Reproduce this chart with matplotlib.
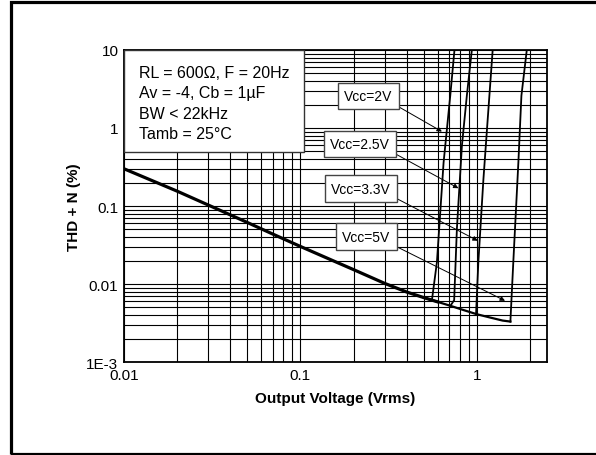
import matplotlib
matplotlib.use("Agg")
import matplotlib.pyplot as plt
from matplotlib.patches import Rectangle
import numpy as np

plt.rcParams['font.family'] = ['Liberation Sans', 'DejaVu Sans']

#### Data ####
# common THD+N curve (all supplies) in % vs output voltage in Vrms
main_v = [0.01, 0.02, 0.03, 0.05, 0.07, 0.1, 0.15, 0.2, 0.3, 0.4, 0.5, 0.6,
          0.7, 0.85, 1.0, 1.2, 1.4, 1.55]
main_thd = [0.30, 0.155, 0.103, 0.0615, 0.0435, 0.0303, 0.0203, 0.0153, 0.0102, 0.0079, 0.0067, 0.0059,
            0.0053, 0.0046, 0.0041, 0.0037, 0.0034, 0.0033]

# clipping rise for each supply voltage
v_2v = [0.557, 0.594, 0.648, 0.707, 0.747]
thd_2v = [0.0063, 0.019, 0.36, 2.6, 10]
v_25v = [0.71, 0.744, 0.771, 0.823, 0.878, 0.937]
thd_25v = [0.0053, 0.0062, 0.051, 0.59, 2.6, 10]
v_33v = [0.99, 1.02, 1.09, 1.16, 1.23]
thd_33v = [0.0041, 0.019, 0.22, 1.58, 10]
v_5v = [1.55, 1.61, 1.72, 1.79, 1.92]
thd_5v = [0.0033, 0.019, 0.36, 2.6, 10]

vcc_labels = ['Vcc=2V', 'Vcc=2.5V', 'Vcc=3.3V', 'Vcc=5V']
info_lines = ['RL = 600\u03a9, F = 20Hz', 'Av = -4, Cb = 1\u00b5F', 'BW < 22kHz', 'Tamb = 25\u00b0C']

x_ticks = [0.01, 0.1, 1]
x_ticklabels = ['0.01', '0.1', '1']
y_ticks = [1e-3, 0.01, 0.1, 1, 10]
y_ticklabels = ['1E-3', '0.01', '0.1', '1', '10']

#### Plot ####
fig = plt.figure(figsize=(5.96, 4.56), dpi=100)
ax = fig.add_axes([0.2081, 0.2039, 0.7097, 0.6843])

ax.set_xscale('log')
ax.set_yscale('log')
ax.set_xlim(0.01, 2.5)
ax.set_ylim(1e-3, 10)

ax.grid(True, which='both', color='black', linewidth=0.8)
ax.set_axisbelow(True)
ax.tick_params(which='both', length=0, labelsize=11, pad=4)
ax.set_xticks(x_ticks)
ax.set_xticklabels(x_ticklabels)
ax.set_yticks(y_ticks)
ax.set_yticklabels(y_ticklabels)
ax.minorticks_on()
ax.xaxis.set_minor_formatter(plt.NullFormatter())
ax.yaxis.set_minor_formatter(plt.NullFormatter())
for sp in ax.spines.values():
    sp.set_linewidth(1.3)

# thick common part, thinner tail
mv = np.array(main_v)
mt = np.array(main_thd)
ax.plot(mv[mv <= 0.6], mt[mv <= 0.6], color='black', lw=2.3, zorder=3)
ax.plot(mv[mv >= 0.5], mt[mv >= 0.5], color='black', lw=1.6, zorder=3)

for v, t in [(v_2v, thd_2v), (v_25v, thd_25v), (v_33v, thd_33v), (v_5v, thd_5v)]:
    ax.plot(v, t, color='black', lw=1.3, zorder=3)

# info box
ax.add_patch(Rectangle((0, 0.672), 0.4255, 0.328, transform=ax.transAxes,
                       facecolor='white', edgecolor='#333333', lw=1.0, zorder=4))
for i, line in enumerate(info_lines):
    ax.text(0.036, 0.9125 - i * 0.0645, line, transform=ax.transAxes,
            fontsize=11.5, va='baseline', ha='left', zorder=5)

# supply voltage callouts
label_pos = [(0.242, 2.56), (0.218, 0.624), (0.221, 0.167), (0.236, 0.0406)]
tips = [(0.634, 0.90), (0.787, 0.169), (1.013, 0.0359), (1.445, 0.0061)]
for lab, pos, tip in zip(vcc_labels, label_pos, tips):
    ax.annotate(lab, xy=tip, xytext=pos, textcoords='data', fontsize=10,
                ha='center', va='center', zorder=5,
                bbox=dict(boxstyle='square,pad=0.45', fc='white', ec='#444444', lw=1.0),
                arrowprops=dict(arrowstyle='-|>', color='black', lw=0.7,
                                mutation_scale=7, relpos=(1, 0), shrinkA=0, shrinkB=0))

ax.set_xlabel('Output Voltage (Vrms)', fontsize=11, fontweight='bold', labelpad=7)
ax.set_ylabel('THD + N (%)', fontsize=11, fontweight='bold', labelpad=4)

# outer frame
fig.patches.append(Rectangle((11 / 596, 1.5 / 456), 1.0, 451.5 / 456, transform=fig.transFigure,
                             fill=False, edgecolor='black', lw=2.3))

plt.savefig('out.png', dpi=100)
plt.close()
